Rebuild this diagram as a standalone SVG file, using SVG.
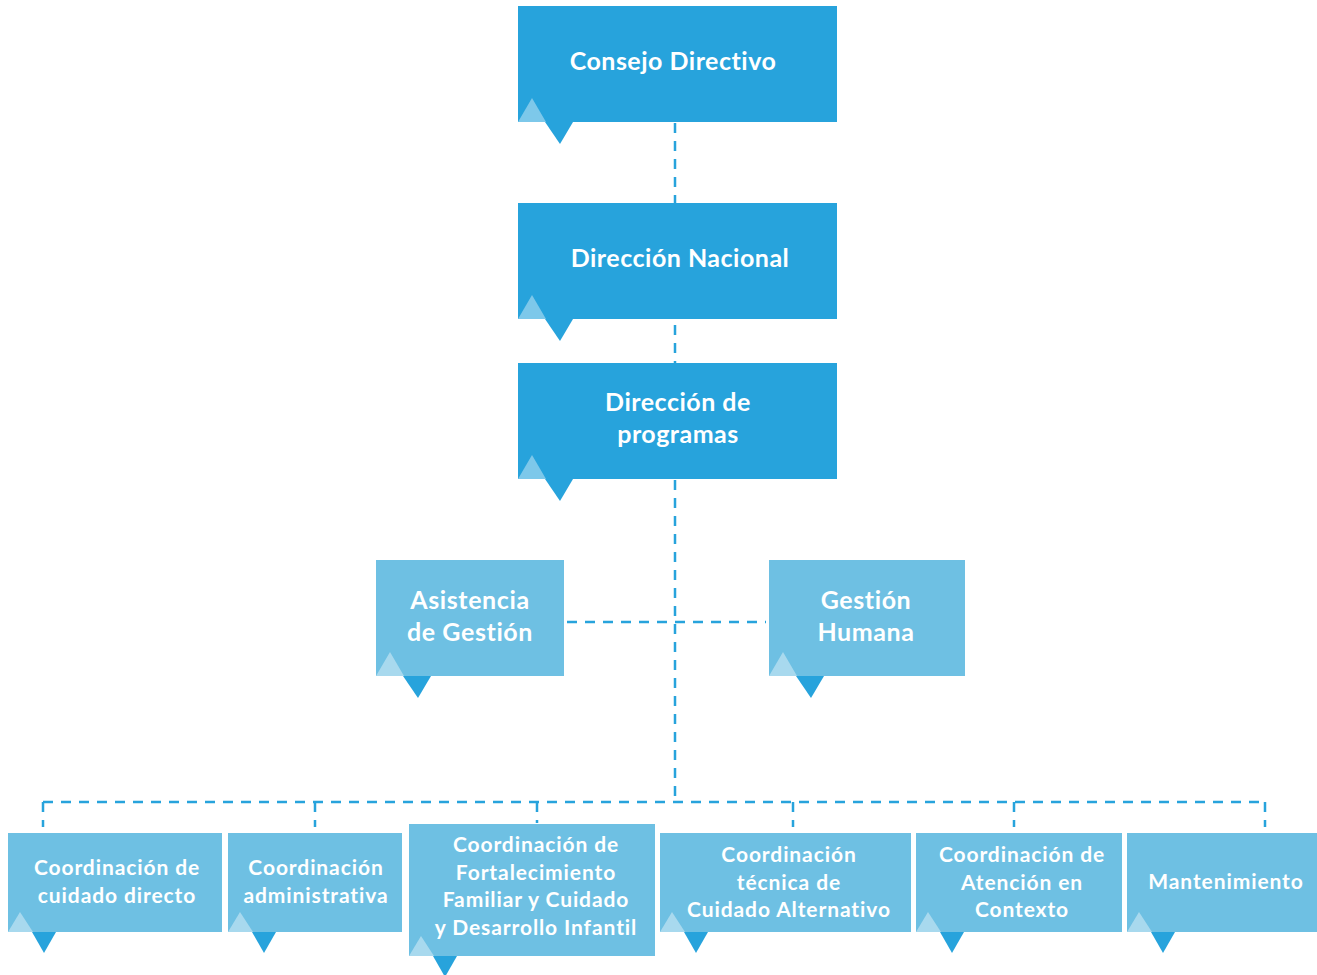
<svg xmlns="http://www.w3.org/2000/svg" width="1317" height="975" viewBox="0 0 1317 975">
<style>
.dk{fill:#27A3DC}
.lt{fill:#6EC0E3}
.hl{fill:#ffffff;fill-opacity:0.4}
.tri{fill:#27A3DC}
.t{font-family:Lato,"Open Sans",sans-serif;font-weight:bold;fill:#ffffff;text-anchor:middle}
.big{font-size:25px;letter-spacing:0.5px}
.mid{font-size:25px;letter-spacing:0.6px}
.sm{font-size:21px;letter-spacing:0.9px}
.c{stroke:#27A3DC;stroke-width:2.5;stroke-dasharray:10 8;fill:none}
</style>
<rect width="1317" height="975" fill="#ffffff"/>
<g id="connectors">
<line class="c" x1="675" y1="123" x2="675" y2="203"/>
<line class="c" x1="675" y1="325" x2="675" y2="363"/>
<line class="c" x1="675" y1="480" x2="675" y2="802"/>
<line class="c" x1="567" y1="622" x2="766" y2="622"/>
<line class="c" x1="43" y1="802" x2="1265" y2="802"/>
<line class="c" x1="43" y1="802" x2="43" y2="827"/>
<line class="c" x1="315" y1="802" x2="315" y2="827"/>
<line class="c" x1="537" y1="802" x2="537" y2="823"/>
<line class="c" x1="793" y1="802" x2="793" y2="827"/>
<line class="c" x1="1014" y1="802" x2="1014" y2="827"/>
<line class="c" x1="1265" y1="802" x2="1265" y2="827"/>
</g>
<g id="consejo">
<rect class="dk" x="518" y="6" width="319" height="116"/>
<polygon class="hl" points="518,122 546,122 532,98"/>
<polygon class="tri" points="545,122 573,122 560,144"/>
<text class="t big" x="673" y="70">Consejo Directivo</text>
</g>
<g id="direccion-nacional">
<rect class="dk" x="518" y="203" width="319" height="116"/>
<polygon class="hl" points="518,319 546,319 532,295"/>
<polygon class="tri" points="545,319 573,319 560,341"/>
<text class="t big" x="680" y="267">Dirección Nacional</text>
</g>
<g id="direccion-programas">
<rect class="dk" x="518" y="363" width="319" height="116"/>
<polygon class="hl" points="518,479 546,479 532,455"/>
<polygon class="tri" points="545,479 573,479 560,501"/>
<text class="t big" x="678" y="411">Dirección de</text>
<text class="t big" x="678" y="443">programas</text>
</g>
<g id="asistencia">
<rect class="lt" x="376" y="560" width="188" height="116"/>
<polygon class="hl" points="376,676 404,676 390,652"/>
<polygon class="tri" points="403,676 431,676 418,698"/>
<text class="t mid" x="470" y="609">Asistencia</text>
<text class="t mid" x="470" y="641">de Gestión</text>
</g>
<g id="gestion-humana">
<rect class="lt" x="769" y="560" width="196" height="116"/>
<polygon class="hl" points="769,676 797,676 783,652"/>
<polygon class="tri" points="796,676 824,676 811,698"/>
<text class="t mid" x="866" y="609">Gestión</text>
<text class="t mid" x="866" y="641">Humana</text>
</g>
<g id="cuidado-directo">
<rect class="lt" x="8" y="833" width="214" height="99"/>
<polygon class="hl" points="8,932 33,932 20,912"/>
<polygon class="tri" points="32,932 56,932 44,953"/>
<text class="t sm" x="117" y="875">Coordinación de</text>
<text class="t sm" x="117" y="903">cuidado directo</text>
</g>
<g id="administrativa">
<rect class="lt" x="228" y="833" width="174" height="99"/>
<polygon class="hl" points="228,932 253,932 240,912"/>
<polygon class="tri" points="252,932 276,932 264,953"/>
<text class="t sm" x="316" y="875">Coordinación</text>
<text class="t sm" x="316" y="903">administrativa</text>
</g>
<g id="fortalecimiento">
<rect class="lt" x="409" y="824" width="246" height="132"/>
<polygon class="hl" points="409,956 434,956 421,936"/>
<polygon class="tri" points="433,956 457,956 445,977"/>
<text class="t sm" x="536" y="852">Coordinación de</text>
<text class="t sm" x="536" y="880">Fortalecimiento</text>
<text class="t sm" x="536" y="907">Familiar y Cuidado</text>
<text class="t sm" x="536" y="935">y Desarrollo Infantil</text>
</g>
<g id="cuidado-alternativo">
<rect class="lt" x="660" y="833" width="251" height="99"/>
<polygon class="hl" points="660,932 685,932 672,912"/>
<polygon class="tri" points="684,932 708,932 696,953"/>
<text class="t sm" x="789" y="862">Coordinación</text>
<text class="t sm" x="789" y="890">técnica de</text>
<text class="t sm" x="789" y="917">Cuidado Alternativo</text>
</g>
<g id="atencion-contexto">
<rect class="lt" x="916" y="833" width="206" height="99"/>
<polygon class="hl" points="916,932 941,932 928,912"/>
<polygon class="tri" points="940,932 964,932 952,953"/>
<text class="t sm" x="1022" y="862">Coordinación de</text>
<text class="t sm" x="1022" y="890">Atención en</text>
<text class="t sm" x="1022" y="917">Contexto</text>
</g>
<g id="mantenimiento">
<rect class="lt" x="1127" y="833" width="190" height="99"/>
<polygon class="hl" points="1127,932 1152,932 1139,912"/>
<polygon class="tri" points="1151,932 1175,932 1163,953"/>
<text class="t sm" x="1226" y="889">Mantenimiento</text>
</g>
</svg>
